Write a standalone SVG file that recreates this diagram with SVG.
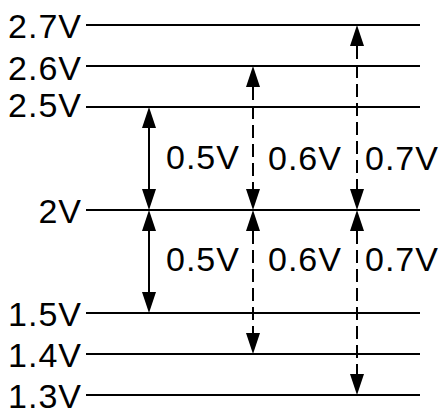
<svg xmlns="http://www.w3.org/2000/svg" width="439" height="410" viewBox="0 0 439 410">
<defs>
<style>
.lvl{stroke:#000;stroke-width:2;fill:none}
.t{font-family:"Liberation Sans",Arial,sans-serif;font-size:34px;fill:#000;letter-spacing:1px}
.lbl{text-anchor:end}
.arr{stroke:#000;stroke-width:2;fill:none;marker-start:url(#ah);marker-end:url(#ah)}
.dash{stroke-dasharray:13,6}
</style>
<marker id="ah" markerUnits="userSpaceOnUse" markerWidth="22" markerHeight="16" viewBox="0 -8 22 16" refX="0" refY="0" orient="auto-start-reverse">
<path d="M0,-7 L21,0 L0,7 Z" fill="#000"/>
</marker>
</defs>
<rect width="439" height="410" fill="#fff"/>
<g id="level-2.7V"><line class="lvl" x1="86" y1="25" x2="420" y2="25"/><text class="t lbl" x="82" y="38">2.7V</text></g>
<g id="level-2.6V"><line class="lvl" x1="86" y1="66" x2="420" y2="66"/><text class="t lbl" x="82" y="79.5">2.6V</text></g>
<g id="level-2.5V"><line class="lvl" x1="86" y1="107" x2="420" y2="107"/><text class="t lbl" x="82" y="117">2.5V</text></g>
<g id="level-2V"><line class="lvl" x1="86" y1="210" x2="420" y2="210"/><text class="t lbl" x="82" y="223">2V</text></g>
<g id="level-1.5V"><line class="lvl" x1="86" y1="313" x2="420" y2="313"/><text class="t lbl" x="82" y="326">1.5V</text></g>
<g id="level-1.4V"><line class="lvl" x1="86" y1="354" x2="420" y2="354"/><text class="t lbl" x="82" y="367">1.4V</text></g>
<g id="level-1.3V"><line class="lvl" x1="86" y1="395" x2="420" y2="395"/><text class="t lbl" x="82" y="407.5">1.3V</text></g>
<g id="connectors">
<line class="arr" x1="149" y1="128" x2="149" y2="189"/>
<line class="arr" x1="149" y1="231" x2="149" y2="292"/>
<line class="arr dash" x1="253" y1="87" x2="253" y2="189"/>
<line class="arr dash" x1="253" y1="231" x2="253" y2="333"/>
<line class="arr dash" x1="357" y1="46" x2="357" y2="189"/>
<line class="arr dash" x1="357" y1="231" x2="357" y2="374"/>
</g>
<g id="labels">
<text class="t" x="166" y="169">0.5V</text>
<text class="t" x="268" y="170">0.6V</text>
<text class="t" x="365" y="170">0.7V</text>
<text class="t" x="166" y="271">0.5V</text>
<text class="t" x="268" y="271">0.6V</text>
<text class="t" x="365" y="271">0.7V</text>
</g>
</svg>
